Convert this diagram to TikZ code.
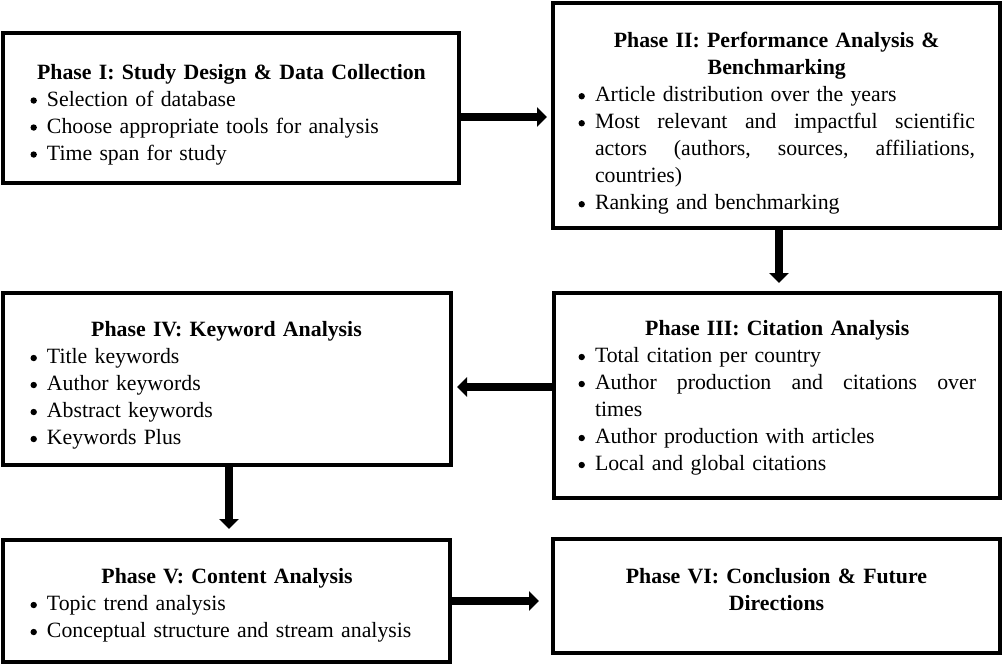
\documentclass[tikz,border=0pt]{standalone}
\usepackage{fontspec}
\setmainfont{Liberation Serif}
\usetikzlibrary{arrows.meta,calc}
\newlength\bhang
\setlength\bhang{16.5pt}
\newcommand\bdot{\tikz[baseline=0pt]\fill (3.3pt,5.6pt) circle (3.2pt);}
\newcommand\bitem[1]{\par\noindent\hangindent=\bhang\hangafter=1\makebox[\bhang][l]{\bdot}#1\par}
\newcommand\btitle[1]{{\centering\bfseries #1\par}}
\begin{document}
\begin{tikzpicture}[x=1pt,y=-1pt,
  box/.style={draw, line width=4pt, inner sep=0pt, outer sep=0pt},
  txt/.style={inner sep=0pt, outer sep=0pt, anchor=north west,
    font=\fontsize{21.8pt}{27pt}\selectfont},
  arr/.style={line width=8pt, -{Triangle[length=10pt,width=19pt]}}]
\useasboundingbox (0,0) rectangle (1003,665);

% boxes
\node[box, minimum width=456pt, minimum height=150pt] (b1) at (231,108) {};
\node[box, minimum width=447pt, minimum height=225pt] (b2) at (776.5,115.5) {};
\node[box, minimum width=446pt, minimum height=205pt] (b3) at (777,395.5) {};
\node[box, minimum width=448pt, minimum height=172pt] (b4) at (227,379) {};
\node[box, minimum width=447pt, minimum height=122pt] (b5) at (226.5,601) {};
\node[box, minimum width=447pt, minimum height=114pt] (b6) at (776.5,596) {};

% texts
\node[txt, text width=402pt] (t1) at (30.5,64) {\parindent=0pt
  \btitle{Phase I: Study Design \& Data Collection}
  \bitem{Selection of database}
  \bitem{Choose appropriate tools for analysis}
  \bitem{Time span for study}};

\node[txt, text width=396.5pt] (t2) at (578.5,32.5) {\parindent=0pt
  \btitle{Phase II: Performance Analysis \&\\Benchmarking}
  \bitem{Article distribution over the years}
  \bitem{Most\hfill relevant\hfill and\hfill impactful\hfill scientific\linebreak actors\hfill (authors,\hfill sources,\hfill affiliations,\linebreak countries)}
  \bitem{Ranking and benchmarking}};

\node[txt, text width=397.5pt] (t3) at (578.5,320.5) {\parindent=0pt
  \btitle{Phase III: Citation Analysis}
  \bitem{Total citation per country}
  \bitem{Author\hfill production\hfill and\hfill citations\hfill over\linebreak times}
  \bitem{Author production with articles}
  \bitem{Local and global citations}};

\node[txt, text width=392pt] (t4) at (30.5,321.5) {\parindent=0pt
  \btitle{Phase IV: Keyword Analysis}
  \bitem{Title keywords}
  \bitem{Author keywords}
  \bitem{Abstract keywords}
  \bitem{Keywords Plus}};

\node[txt, text width=393pt] (t5) at (30.5,568.5) {\parindent=0pt
  \btitle{Phase V: Content Analysis}
  \bitem{Topic trend analysis}
  \bitem{Conceptual structure and stream analysis}};

\node[txt, text width=440pt, anchor=north, align=center] (t6) at (776.5,568.5)
  {\bfseries Phase VI: Conclusion \& Future\\Directions};

% arrows
\coordinate (s12) at ($(b1.east)+(0,9)$);
\draw[arr, shorten >=6pt] (s12) -- (s12 -| b2.west);
\coordinate (s23) at ($(b2.south)+(2.5,0)$);
\draw[arr, shorten >=10pt] (s23) -- (s23 |- b3.north);
\coordinate (s34) at ($(b3.west)+(0,-8.5)$);
\draw[arr, shorten >=6pt] (s34) -- (s34 -| b4.east);
\coordinate (s45) at ($(b4.south)+(2,0)$);
\draw[arr, shorten >=11pt] (s45) -- (s45 |- b5.north);
\coordinate (s56) at (b5.east);
\draw[arr, shorten >=14pt] (s56) -- (s56 -| b6.west);
\end{tikzpicture}
\end{document}
